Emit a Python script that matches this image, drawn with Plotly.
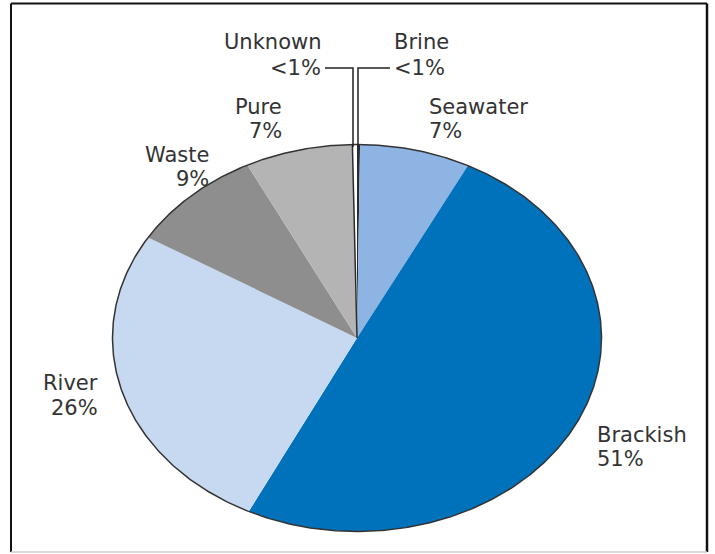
import numpy as np
import plotly.graph_objects as go

# ---- data (clockwise from 12 o'clock) ----
categories = ["Brine", "Seawater", "Brackish", "River", "Waste", "Pure", "Unknown"]
values = [0.2, 7.3, 49.8, 26.4, 8.9, 7.1, 0.3]
pct_labels = ["<1%", "7%", "51%", "26%", "9%", "7%", "<1%"]
colors = ["#2b2b2b", "#8db4e2", "#0072bc", "#c6d9f1", "#8e8e8e", "#b4b4b4", "#ffffff"]

# ---- layout constants (pixels of the 715x554 page) ----
W, H = 715, 554
CX, CY, RX, RY = 357, 338, 244.5, 193.5


def dx(px):
    return (px - CX) / RX


def dy(py):
    return (CY - py) / RY


fig = go.Figure()

total = float(sum(values))
cum = np.concatenate([[0.0], np.cumsum(values)]) / total * 2 * np.pi

for i, (name, col) in enumerate(zip(categories, colors)):
    a0, a1 = cum[i], cum[i + 1]
    n = max(3, int(np.degrees(a1 - a0) * 2))
    t = np.linspace(a0, a1, n)
    xs = np.concatenate([[0.0], np.sin(t), [0.0]])
    ys = np.concatenate([[0.0], np.cos(t), [0.0]])
    fig.add_trace(go.Scatter(x=xs, y=ys, mode="lines", fill="toself",
                             fillcolor=col, line=dict(width=0, color=col),
                             name=name, hoverinfo="name", showlegend=False))

# dark edge on the left side of the "Unknown" sliver
a_unk = cum[len(values) - 1]
fig.add_trace(go.Scatter(x=[0, np.sin(a_unk)], y=[0, np.cos(a_unk)], mode="lines",
                         line=dict(color="#2b2b2b", width=1.5),
                         hoverinfo="skip", showlegend=False))

# outer outline of the pie
tt = np.linspace(0, 2 * np.pi, 721)
fig.add_trace(go.Scatter(x=np.sin(tt), y=np.cos(tt), mode="lines",
                         line=dict(color="#333333", width=1.5),
                         hoverinfo="skip", showlegend=False))

# leader lines for the tiny slices
fig.add_trace(go.Scatter(x=[dx(325), dx(353), dx(353)], y=[dy(68), dy(68), dy(147)],
                         mode="lines", line=dict(color="#222222", width=1.5),
                         hoverinfo="skip", showlegend=False))
fig.add_trace(go.Scatter(x=[dx(390), dx(358), dx(358)], y=[dy(68), dy(68), dy(147)],
                         mode="lines", line=dict(color="#222222", width=1.5),
                         hoverinfo="skip", showlegend=False))

# label placement: category -> (x px, anchor, name y px, pct y px)
label_pos = {
    "Unknown": (323, "right", 42, 68),
    "Brine": (392, "left", 42, 68),
    "Pure": (284, "right", 107, 131),
    "Seawater": (427, "left", 107, 131),
    "Waste": (211, "right", 155, 179),
    "River": (100, "right", 383, 408),
    "Brackish": (595, "left", 435, 459),
}
font = dict(family="DejaVu Sans", size=21, color="#333333")
annotations = []
for name, pct in zip(categories, pct_labels):
    x, anc, y1, y2 = label_pos[name]
    for txt, yy in ((name, y1), (pct, y2)):
        annotations.append(dict(x=dx(x), y=dy(yy), xref="x", yref="y", text=txt,
                                showarrow=False, xanchor=anc, yanchor="middle",
                                font=font))

# frame around the picture
shapes = [
    dict(type="line", xref="paper", yref="paper", x0=11 / W, x1=11 / W,
         y0=1 - 552 / H, y1=1 - 3.5 / H, line=dict(color="#111111", width=2)),
    dict(type="line", xref="paper", yref="paper", x0=707 / W, x1=707 / W,
         y0=1 - 552 / H, y1=1 - 3.5 / H, line=dict(color="#111111", width=2.5)),
    dict(type="line", xref="paper", yref="paper", x0=11 / W, x1=707 / W,
         y0=1 - 3.5 / H, y1=1 - 3.5 / H, line=dict(color="#111111", width=2)),
    dict(type="line", xref="paper", yref="paper", x0=11 / W, x1=707 / W,
         y0=1 - 552 / H, y1=1 - 552 / H, line=dict(color="#cccccc", width=1.5)),
]

fig.update_layout(
    width=W, height=H,
    margin=dict(l=0, r=0, t=0, b=0),
    paper_bgcolor="white", plot_bgcolor="white",
    xaxis=dict(range=[dx(0), dx(W)], visible=False, fixedrange=True),
    yaxis=dict(range=[dy(H), dy(0)], visible=False, fixedrange=True),
    annotations=annotations,
    shapes=shapes,
    showlegend=False,
)

fig.write_html("out.html",
               config={"displayModeBar": False},
               post_script="document.body.style.margin='0px';"
                           "document.body.style.overflow='hidden';")
